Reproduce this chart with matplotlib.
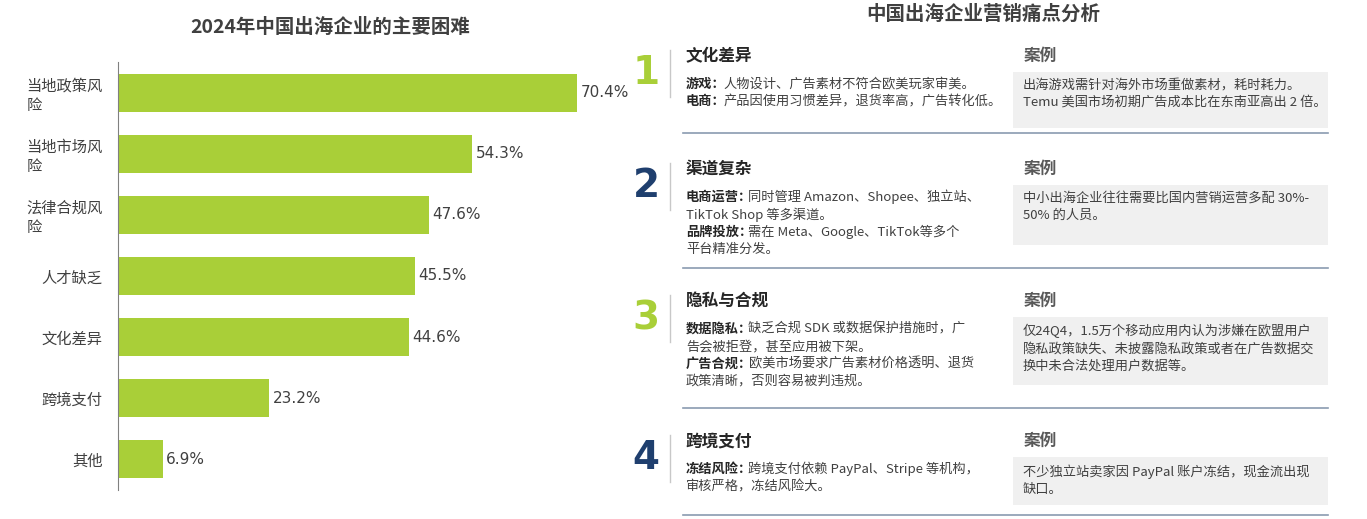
import matplotlib.pyplot as plt
from matplotlib.patches import Rectangle

plt.rcParams['font.family'] = ['Noto Sans CJK SC', 'DejaVu Sans']

W, H = 1367, 519

# left chart data
categories = ["当地政策风\n险", "当地市场风\n险", "法律合规风\n险", "人才缺乏", "文化差异", "跨境支付", "其他"]
values = [70.4, 54.3, 47.6, 45.5, 44.6, 23.2, 6.9]

# right table data
row_nums = ["1", "2", "3", "4"]
row_titles = ["文化差异", "渠道复杂", "隐私与合规", "跨境支付"]
row_lines = [
    [("游戏：", "人物设计、广告素材不符合欧美玩家审美。"), ("电商：", "产品因使用习惯差异，退货率高，广告转化低。")],
    [("电商运营：", "同时管理 Amazon、Shopee、独立站、"), ("", "TikTok Shop 等多渠道。"),
     ("品牌投放：", "需在 Meta、Google、TikTok等多个"), ("", "平台精准分发。")],
    [("数据隐私：", "缺乏合规 SDK 或数据保护措施时，广"), ("", "告会被拒登，甚至应用被下架。"),
     ("广告合规：", "欧美市场要求广告素材价格透明、退货"), ("", "政策清晰，否则容易被判违规。")],
    [("冻结风险：", "跨境支付依赖 PayPal、Stripe 等机构，"), ("", "审核严格，冻结风险大。")],
]
case_texts = [
    "出海游戏需针对海外市场重做素材，耗时耗力。\nTemu 美国市场初期广告成本比在东南亚高出 2 倍。",
    "中小出海企业往往需要比国内营销运营多配 30%-\n50% 的人员。",
    "仅24Q4，1.5万个移动应用内认为涉嫌在欧盟用户\n隐私政策缺失、未披露隐私政策或者在广告数据交\n换中未合法处理用户数据等。",
    "不少独立站卖家因 PayPal 账户冻结，现金流出现\n缺口。",
]

GREEN = "#a9cf38"
NAVY = "#1f3f6e"
num_colors = [GREEN, NAVY, GREEN, NAVY]

fig = plt.figure(figsize=(W / 100, H / 100), dpi=100)


def fx(px):
    return px / W


def fy(py):
    return 1 - py / H


# ---- left bar chart ----
ax = fig.add_axes([fx(118), fy(490), fx(640) - fx(118), fy(62) - fy(490)])
ypos = list(range(len(values)))
ax.barh(ypos, values, height=0.62, color=GREEN)
for y, v in zip(ypos, values):
    ax.text(v + 0.5, y, f"{v}%", va="center", ha="left", fontsize=11, color="#404040",
            family="DejaVu Sans")
ax.set_yticks(ypos)
ax.set_yticklabels(categories, fontsize=11, color="#404040", multialignment="left")
ax.set_ylim(len(values) - 0.5, -0.5)
ax.set_xlim(0, 80)
ax.set_xticks([])
for s in ["top", "right", "bottom"]:
    ax.spines[s].set_visible(False)
ax.spines["left"].set_color("#808080")
ax.tick_params(axis="y", length=0, pad=11)
fig.text(fx(330), fy(27), "2024年中国出海企业的主要困难", ha="center", va="center",
         fontsize=14, fontweight="bold", color="#404040")

# ---- right table ----
fig.text(fx(983), fy(14), "中国出海企业营销痛点分析", ha="center", va="center",
         fontsize=14, fontweight="bold", color="#404040")

row_tops = [45, 158, 290, 430]
sep_y = [133, 268, 408, 515]
box_h = [56, 60, 68, 48]
for i in range(4):
    t = row_tops[i]
    fig.text(fx(646), fy(t + 28), row_nums[i], ha="center", va="center", fontsize=28,
             fontweight="bold", color=num_colors[i], family="DejaVu Sans")
    fig.add_artist(plt.Line2D([fx(670), fx(670)], [fy(t + 5), fy(t + 52)], color="#c8c8c8", lw=1))
    fig.text(fx(686), fy(t + 11), row_titles[i], ha="left", va="center", fontsize=12,
             fontweight="bold", color="#262626")
    fig.text(fx(1024), fy(t + 11), "案例", ha="left", va="center", fontsize=12,
             fontweight="bold", color="#595959")
    fig.add_artist(Rectangle((fx(1013), fy(t + 27 + box_h[i])), fx(315), fy(0) - fy(box_h[i]),
                             color="#f0f0f0", lw=0))
    fig.text(fx(1023), fy(t + 34), case_texts[i], ha="left", va="top", fontsize=9.5,
             color="#404040", linespacing=1.4)
    for j, (bold, rest) in enumerate(row_lines[i]):
        yy = fy(t + 39 + j * 17.5)
        fig.text(fx(686), yy, bold, ha="left", va="center", fontsize=9.5,
                 fontweight="bold", color="#262626")
        xoff = 686 + len(bold) * 12.5 if bold else 686
        fig.text(fx(xoff), yy, rest, ha="left", va="center", fontsize=9.5, color="#404040")
    fig.add_artist(plt.Line2D([fx(683), fx(1328)], [fy(sep_y[i]), fy(sep_y[i])],
                              color="#8a9bb0", lw=1.2))

fig.savefig("out.png", dpi=100)
